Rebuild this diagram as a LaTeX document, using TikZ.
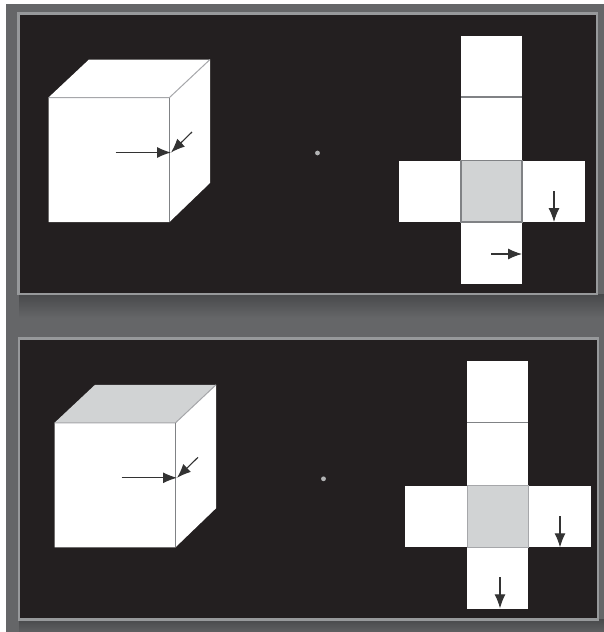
\documentclass[tikz,border=0pt]{standalone}
\usepackage{tikz}
\usetikzlibrary{arrows.meta}
\usepackage{xcolor}
\definecolor{slatebg}{HTML}{656668}
\definecolor{slateshadow}{HTML}{48494B}
\definecolor{panelblack}{HTML}{231F20}
\definecolor{panelrim}{HTML}{97999B}
\definecolor{facegrey}{HTML}{D1D3D4}
\definecolor{edgegrey}{HTML}{808285}
\tikzset{
  panelbox/.style={fill=panelblack,draw=panelrim,line width=1.2pt},
  face/.style={fill=white},
  shaded face/.style={fill=facegrey},
  fold/.style={draw=edgegrey,line width=0.6pt},
  pale fold/.style={draw=edgegrey!70,line width=0.5pt},
  pointer/.style={-{Latex[length=7pt,width=5.5pt]},draw=black!80,line width=0.55pt},
  centre dot/.style={circle,fill=facegrey!85!black,inner sep=0pt,minimum size=2.4pt}
}
\begin{document}
\begin{tikzpicture}[x=0.5pt,y=-0.5pt]
\useasboundingbox (0,0) rectangle (604,632);
\fill[white] (0,0) rectangle (604,632);
\fill[slatebg] (6,4) rectangle (604,632);
% Soft shadow under each panel.
\shade[top color=slateshadow,bottom color=slatebg] (19,294) rectangle (604,318);
\shade[top color=slateshadow,bottom color=slatebg!80!slateshadow] (19,619) rectangle (604,632);
% Upper panel: every face is white except the middle of the net.
\draw[panelbox] (18.5,13.5) rectangle (597,294);
\fill[face] (48.5,97.5)--(89,59.5)--(210,59.5)--(210,183)--(169.5,222)--(48.5,222)--cycle;
\draw[pale fold] (48.5,97.5)--(169.5,97.5)--(210,59.5);
\draw[fold] (169.5,97.5)--(169.5,222);
\coordinate (tipa) at (171,152.5);
\coordinate (taila) at (115.5,152.5);
\coordinate (tailb) at (192,132);
\draw[pointer] (taila)--(tipa);
\draw[pointer] (tailb)--(tipa);
\node[centre dot] (dota) at (317.5,153) {};
\fill[face] (461,36) rectangle (522,284);
\fill[face] (398.5,160.5) rectangle (584.5,222);
\fill[shaded face] (461,160.5) rectangle (522,222);
\draw[fold] (461,97)--(522,97);
\draw[fold] (461,160.5) rectangle (522,222);
\draw[pointer] (554,191)--(554,222);
\draw[pointer] (491,254)--(522,254);
% Lower panel: same layout, moved down, with the cube's top shaded.
\begin{scope}[shift={(6,325.3)}]
\draw[panelbox] (13,13.2) rectangle (592,294);
\fill[face] (169.5,97.5)--(210,59.5)--(210,183)--(169.5,222)--(48.5,222)--(48.5,97.5)--cycle;
\fill[shaded face] (48.5,97.5)--(89,59.5)--(210,59.5)--(169.5,97.5)--cycle;
\draw[pale fold] (48.5,97.5)--(169.5,97.5)--(210,59.5);
\draw[fold] (169.5,97.5)--(169.5,222);
\coordinate (tipc) at (171,152.5);
\coordinate (tailc) at (115.5,152.5);
\coordinate (taild) at (192,132);
\draw[pointer] (tailc)--(tipc);
\draw[pointer] (taild)--(tipc);
\node[centre dot] (dotb) at (317.5,153.5) {};
\fill[face] (461,36) rectangle (522,284);
\fill[face] (398.5,160.5) rectangle (584.5,222);
\fill[shaded face] (461,160.5) rectangle (522,222);
\draw[fold] (461,97)--(522,97);
\draw[pale fold] (461,160.5) rectangle (522,222);
\draw[pointer] (554,191)--(554,222);
\draw[pointer] (494,252)--(494,283);
\end{scope}
\end{tikzpicture}
\end{document}
